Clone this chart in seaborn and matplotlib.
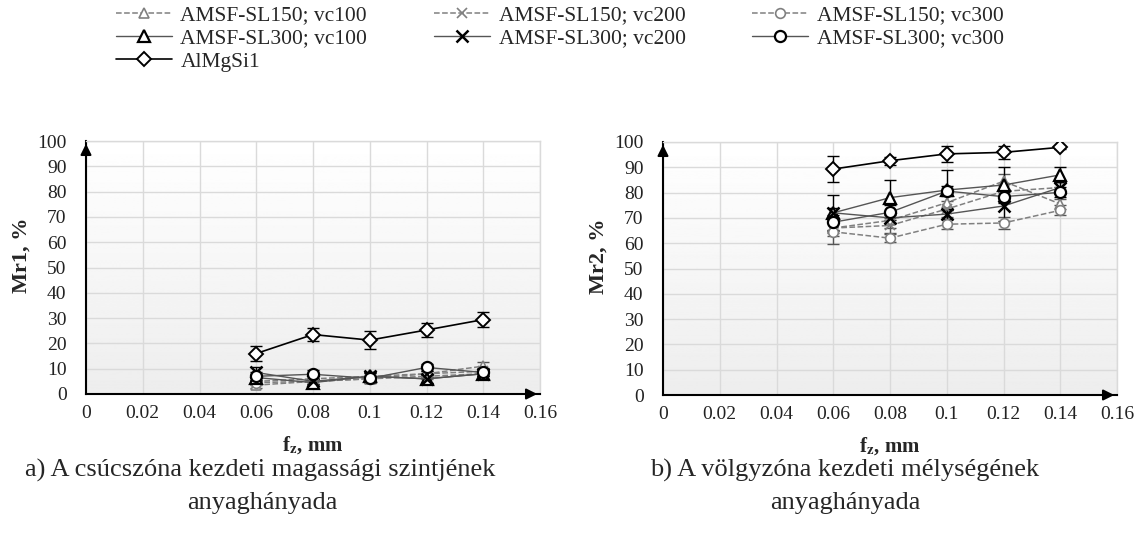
import numpy as np
import pandas as pd
import matplotlib
matplotlib.use("Agg")
import matplotlib.pyplot as plt
import seaborn as sns

sns.set_theme(style="white")
plt.rcParams['font.family'] = ['Liberation Serif', 'DejaVu Serif']
plt.rcParams['mathtext.fontset'] = 'stix'

fz = [0.06, 0.08, 0.1, 0.12, 0.14]

series_names = ["AMSF-SL150; vc100", "AMSF-SL150; vc200", "AMSF-SL150; vc300",
                "AMSF-SL300; vc100", "AMSF-SL300; vc200", "AMSF-SL300; vc300",
                "AlMgSi1"]

# Mr1 (left)
mr1_sl150_vc100 = [3.5, 5.0, 6.0, 8.0, 11.0]
mr1_sl150_vc200 = [5.0, 6.0, 7.0, 8.0, 9.0]
mr1_sl150_vc300 = [4.5, 5.0, 6.0, 7.0, 8.0]
mr1_sl300_vc100 = [6.5, 4.5, 7.0, 6.0, 8.0]
mr1_sl300_vc200 = [8.5, 5.0, 7.0, 6.0, 8.0]
mr1_sl300_vc300 = [7.0, 7.8, 6.2, 10.5, 8.5]
mr1_almgsi1 = [16.0, 23.5, 21.3, 25.3, 29.4]

mr1_err_sl150_vc100 = [1.2, 1.0, 1.2, 1.2, 1.5]
mr1_err_sl150_vc200 = [1.2, 1.0, 1.2, 1.2, 1.2]
mr1_err_sl150_vc300 = [1.0, 1.0, 1.2, 1.0, 1.0]
mr1_err_sl300_vc100 = [1.5, 1.0, 1.5, 1.5, 1.0]
mr1_err_sl300_vc200 = [2.0, 1.0, 1.5, 1.5, 1.0]
mr1_err_sl300_vc300 = [1.5, 1.5, 2.0, 1.5, 1.0]
mr1_err_almgsi1 = [3.0, 2.5, 3.5, 2.7, 2.9]

# Mr2 (right)
mr2_sl150_vc100 = [66.0, 69.0, 76.0, 84.5, 75.5]
mr2_sl150_vc200 = [66.0, 67.0, 73.5, 80.5, 82.0]
mr2_sl150_vc300 = [64.5, 62.0, 67.5, 68.0, 73.0]
mr2_sl300_vc100 = [72.0, 78.0, 81.0, 83.0, 87.0]
mr2_sl300_vc200 = [72.0, 70.0, 71.5, 74.7, 82.0]
mr2_sl300_vc300 = [68.3, 72.2, 80.6, 78.4, 80.1]
mr2_almgsi1 = [89.3, 92.6, 95.3, 95.9, 97.9]

mr2_err_sl150_vc100 = [2.0, 3.0, 3.0, 3.0, 2.0]
mr2_err_sl150_vc200 = [3.0, 3.0, 3.0, 3.0, 2.0]
mr2_err_sl150_vc300 = [5.0, 1.5, 2.0, 2.5, 2.0]
mr2_err_sl300_vc100 = [7.0, 7.0, 8.0, 7.0, 3.0]
mr2_err_sl300_vc200 = [2.0, 2.0, 2.0, 6.0, 2.0]
mr2_err_sl300_vc300 = [3.0, 3.0, 2.0, 2.0, 2.0]
mr2_err_almgsi1 = [5.0, 1.5, 3.3, 2.5, 0.5]

x_ticks = [0, 0.02, 0.04, 0.06, 0.08, 0.1, 0.12, 0.14, 0.16]
x_ticklabels = ["0", "0.02", "0.04", "0.06", "0.08", "0.1", "0.12", "0.14", "0.16"]
y_ticks = list(range(0, 101, 10))

left_vals = [mr1_sl150_vc100, mr1_sl150_vc200, mr1_sl150_vc300,
             mr1_sl300_vc100, mr1_sl300_vc200, mr1_sl300_vc300, mr1_almgsi1]
left_errs = [mr1_err_sl150_vc100, mr1_err_sl150_vc200, mr1_err_sl150_vc300,
             mr1_err_sl300_vc100, mr1_err_sl300_vc200, mr1_err_sl300_vc300, mr1_err_almgsi1]
right_vals = [mr2_sl150_vc100, mr2_sl150_vc200, mr2_sl150_vc300,
              mr2_sl300_vc100, mr2_sl300_vc200, mr2_sl300_vc300, mr2_almgsi1]
right_errs = [mr2_err_sl150_vc100, mr2_err_sl150_vc200, mr2_err_sl150_vc300,
              mr2_err_sl300_vc100, mr2_err_sl300_vc200, mr2_err_sl300_vc300, mr2_err_almgsi1]

styles = [
    dict(color="#808080", ls="--", marker="^", ms=7, lw=1.1, mew=1.2),
    dict(color="#808080", ls="--", marker="x", ms=7, lw=1.1, mew=1.2),
    dict(color="#808080", ls="--", marker="o", ms=7, lw=1.1, mew=1.2),
    dict(color="#555555", ls="-", marker="^", ms=8, lw=1.0, mew=1.6, mec="black"),
    dict(color="#555555", ls="-", marker="x", ms=8, lw=1.0, mew=1.8, mec="black"),
    dict(color="#555555", ls="-", marker="o", ms=8, lw=1.0, mew=1.6, mec="black"),
    dict(color="black", ls="-", marker="D", ms=7, lw=1.2, mew=1.4, mec="black"),
]

fig = plt.figure(figsize=(11.37, 5.42), dpi=100)
ax1 = fig.add_axes([86/1137, 1-394/542, 454/1137, 253/542])
ax2 = fig.add_axes([663/1137, 1-395/542, 454/1137, 253/542])

grad = np.linspace(1.0, 0.93, 256).reshape(-1, 1)

def draw(ax, vals, errs, ylabel):
    ax.set_facecolor("none")
    ax.imshow(grad, extent=[0, 0.16, 0, 100], aspect="auto", cmap="gray",
              vmin=0, vmax=1, zorder=0, origin="upper")
    for name, v, e, st in zip(series_names, vals, errs, styles):
        df = pd.DataFrame({"fz": fz, "val": v})
        mec = st.get("mec", st["color"])
        ax.errorbar(fz, v, yerr=e, fmt="none", ecolor="black" if st["ls"] == "-" else "#555555",
                    elinewidth=1.0, capsize=4, capthick=1.0, zorder=3)
        sns.lineplot(data=df, x="fz", y="val", ax=ax, color=st["color"],
                     linestyle=st["ls"], linewidth=st["lw"], marker=st["marker"],
                     markersize=st["ms"], markerfacecolor="white",
                     markeredgecolor=mec, markeredgewidth=st["mew"],
                     label=name, zorder=4)
    ax.set_xlim(0, 0.16)
    ax.set_ylim(0, 100)
    ax.set_xticks(x_ticks)
    ax.set_xticklabels(x_ticklabels)
    ax.set_yticks(y_ticks)
    ax.tick_params(axis="x", labelsize=14, length=0, pad=8, colors="#222222")
    ax.tick_params(axis="y", labelsize=14, length=0, pad=14, colors="#222222")
    ax.grid(True, color="#dadada", lw=1.0, zorder=1)
    for s in ["top", "right"]:
        ax.spines[s].set_color("#dadada")
        ax.spines[s].set_linewidth(1.0)
    for s in ["left", "bottom"]:
        ax.spines[s].set_color("black")
        ax.spines[s].set_linewidth(1.5)
    ax.annotate("", xy=(1.0, 0), xytext=(0.97, 0), xycoords="axes fraction",
                arrowprops=dict(arrowstyle="-|>", color="black", lw=1.5,
                                mutation_scale=16), annotation_clip=False)
    ax.annotate("", xy=(0, 1.0), xytext=(0, 0.95), xycoords="axes fraction",
                arrowprops=dict(arrowstyle="-|>", color="black", lw=1.5,
                                mutation_scale=16), annotation_clip=False)
    ax.set_xlabel(r"f$_\mathbf{z}$, mm", fontsize=15, fontweight="bold", labelpad=9)
    ax.set_ylabel(ylabel, fontsize=16, fontweight="bold")
    ax.yaxis.set_label_coords(-0.12, 0.55)
    if ax.get_legend():
        ax.get_legend().remove()

draw(ax1, left_vals, left_errs, "Mr1, %")
draw(ax2, right_vals, right_errs, "Mr2, %")

handles, labels = ax1.get_legend_handles_labels()
order = [0, 3, 6, 1, 4, 2, 5]
fig.legend([handles[i] for i in order], [labels[i] for i in order],
           loc="upper left", bbox_to_anchor=(103/1137, 1.014), ncol=3,
           frameon=False, fontsize=15.5, handlelength=2.6, columnspacing=3.1,
           labelspacing=0.14, handletextpad=0.4, borderaxespad=0.2)

cap_fs = 19
fig.text(260/1137, 1-470/542, "a) A csúcszóna kezdeti magassági szintjének",
         ha="center", va="center", fontsize=cap_fs)
fig.text(262/1137, 1-503/542, "anyaghányada", ha="center", va="center", fontsize=cap_fs)
fig.text(845/1137, 1-470/542, "b) A völgyzóna kezdeti mélységének",
         ha="center", va="center", fontsize=cap_fs)
fig.text(845/1137, 1-503/542, "anyaghányada", ha="center", va="center", fontsize=cap_fs)

fig.savefig("out.png", dpi=100)
